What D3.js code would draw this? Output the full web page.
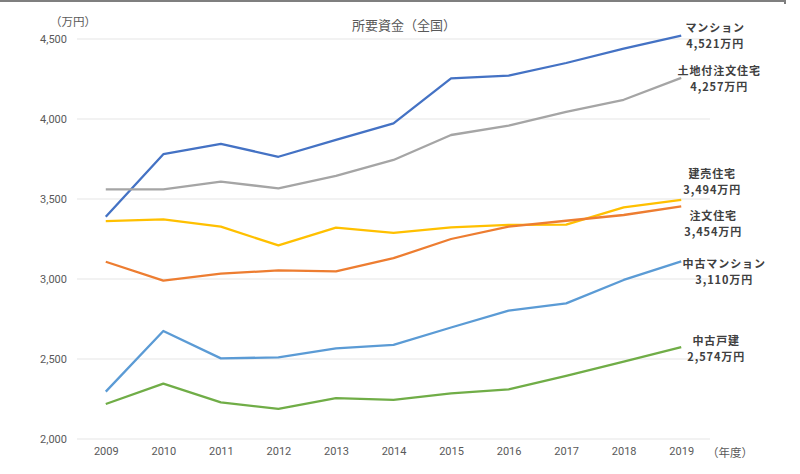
<!DOCTYPE html>
<html><head><meta charset="utf-8">
<script src="https://cdn.jsdelivr.net/npm/d3@7"></script>
<style>
body{margin:0;background:#fff;}
text{font-family:"Noto Sans CJK JP","Noto Sans",sans-serif;}
</style></head>
<body><svg id="c" width="800" height="474"></svg>
<script>
const years = [2009,2010,2011,2012,2013,2014,2015,2016,2017,2018,2019];
const yTicks = [2000,2500,3000,3500,4000,4500];
const seriesNames = ["マンション","土地付注文住宅","建売住宅","注文住宅","中古マンション","中古戸建"];
const mansion    = [3389,3780,3844,3764,3870,3973,4254,4271,4350,4440,4521];
const tochitsuki = [3560,3560,3608,3567,3644,3744,3900,3958,4045,4120,4257];
const tateuri    = [3362,3373,3327,3210,3321,3288,3323,3338,3340,3448,3494];
const chumon     = [3108,2990,3033,3054,3048,3130,3250,3327,3364,3400,3454];
const chukoMan   = [2296,2675,2504,2510,2567,2588,2697,2802,2848,2994,3110];
const chukoKodate= [2219,2346,2229,2188,2256,2244,2285,2310,2395,2483,2574];
const valueLabels = ["4,521万円","4,257万円","3,494万円","3,454万円","3,110万円","2,574万円"];

const seriesValues = [mansion,tochitsuki,tateuri,chumon,chukoMan,chukoKodate];
const colors = ["#4472C4","#A5A5A5","#FFC000","#ED7D31","#5B9BD5","#70AD47"];
// label placement: [center x offset from last point, y offset of first line from last point]
const labelOffsets = [[34,-7.5],[38,-6.5],[31,-26],[32,10],[43,3],[35,-6.5]];

const svg = d3.select("#c");
const x = d3.scalePoint().domain(years).range([77,710]).padding(0.5);
const y = d3.scaleLinear().domain([2000,4500]).range([439,39]);

// top frame line
svg.append("rect").attr("x",0).attr("y",0).attr("width",786).attr("height",2).attr("fill","#7f7f7f");
svg.append("rect").attr("x",784).attr("y",0).attr("width",2).attr("height",4).attr("fill","#7f7f7f");

// gridlines
svg.append("g").selectAll("line").data(yTicks).join("line")
  .attr("x1",77).attr("x2",710).attr("y1",d=>y(d)).attr("y2",d=>y(d))
  .attr("stroke","#e6e6e6").attr("stroke-width",1.2);

// y axis
const yAxis = svg.append("g").attr("transform","translate(77,0)")
  .call(d3.axisLeft(y).tickValues(yTicks).tickSize(0).tickPadding(10).tickFormat(d3.format(",")));
yAxis.select(".domain").remove();
yAxis.selectAll("text").attr("fill","#595959").style("font-size","11px").style("font-family","Roboto,'Noto Sans',sans-serif");

// x axis
const xAxis = svg.append("g").attr("transform","translate(0,439)")
  .call(d3.axisBottom(x).tickSize(0).tickPadding(8));
xAxis.select(".domain").remove();
xAxis.selectAll("text").attr("fill","#595959").style("font-size","11px").style("font-family","Roboto,'Noto Sans',sans-serif");

svg.append("text").attr("x",73).attr("y",26).attr("text-anchor","middle")
  .attr("fill","#595959").style("font-size","11.5px").text("（万円）");
svg.append("text").attr("x",730).attr("y",457).attr("text-anchor","middle")
  .attr("fill","#595959").style("font-size","11.5px").text("（年度）");
svg.append("text").attr("x",404).attr("y",30).attr("text-anchor","middle")
  .attr("fill","#595959").style("font-size","13px").text("所要資金（全国）");

// lines
const line = d3.line().x((d,i)=>x(years[i])).y(d=>y(d));
svg.append("g").selectAll("path").data(seriesValues).join("path")
  .attr("d",line).attr("fill","none")
  .attr("stroke",(d,i)=>colors[i]).attr("stroke-width",2.3).attr("stroke-linejoin","round");

// labels
const lg = svg.append("g");
seriesValues.forEach((vals,i)=>{
  const lx = x(years[years.length-1]) + labelOffsets[i][0];
  const ly = y(vals[vals.length-1]) + labelOffsets[i][1];
  [seriesNames[i], valueLabels[i]].forEach((s,k)=>{
    lg.append("text").attr("text-anchor","middle").attr("fill","#404040")
      .attr("x",lx).attr("y",ly+4+k*16)
      .style("font-size","11px").style("font-weight","bold").style("letter-spacing","0.9px")
      .text(s);
  });
});
</script></body></html>
